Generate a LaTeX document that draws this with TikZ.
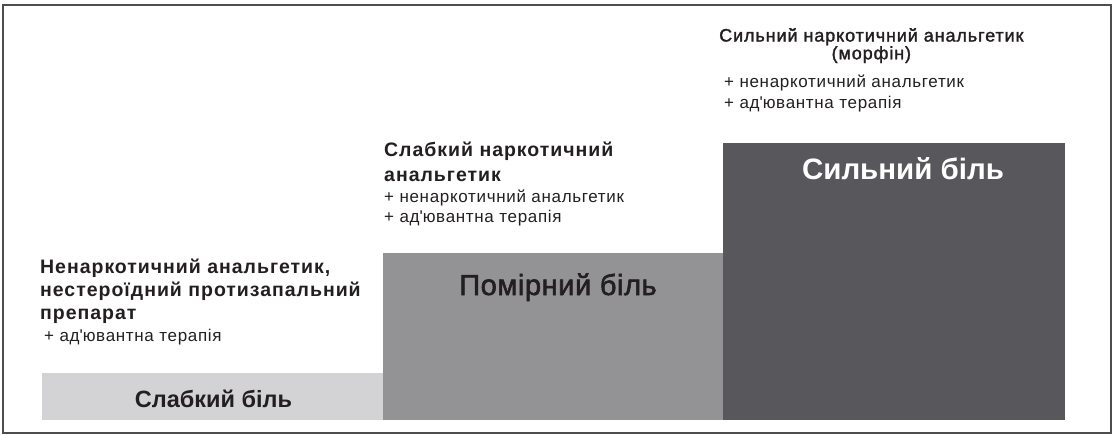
\documentclass[tikz,border=0pt]{standalone}
\usepackage{fontspec}
\setmainfont{Liberation Sans}
\newfontfamily\trackfont{Liberation Sans}[LetterSpace=5]
\newfontfamily\addfont{Liberation Sans}[LetterSpace=4]
\newfontfamily\semifont{Liberation Sans}[LetterSpace=5,RawFeature={embolden=1.6}]
\newfontfamily\labelsemifont{Liberation Sans}[LetterSpace=2,RawFeature={embolden=2}]
\usetikzlibrary{positioning}
\definecolor{weakgray}{HTML}{D3D3D5}
\definecolor{moderategray}{HTML}{939396}
\definecolor{stronggray}{HTML}{58585C}
\definecolor{inkgray}{HTML}{231F20}

\begin{document}
\begin{tikzpicture}[x=1pt,y=-1pt,
  painbox/.style={rectangle,draw=none,inner sep=0pt,anchor=south west},
  painlabel/.style={anchor=base,inner sep=0pt,text=inkgray},
  drugtext/.style={anchor=base west,align=left,inner sep=0pt,text=inkgray,
    font=\fontsize{19.5}{23}\trackfont\bfseries},
  addtext/.style={anchor=base west,align=left,inner sep=0pt,text=inkgray,
    font=\fontsize{17}{20.5}\addfont}]
  \useasboundingbox (0,0) rectangle (1115,435);
  \draw[line width=1.5pt,draw=inkgray!80] (3,5) rectangle (1111,433);

  % steps of the ladder
  \node[painbox,fill=weakgray,minimum width=341,minimum height=47] (weak) at (42,420) {};
  \node[painbox,fill=moderategray,minimum width=340,minimum height=167] (moderate) at (383,420) {};
  \node[painbox,fill=stronggray,minimum width=342,minimum height=277] (strong) at (723,420) {};

  \node[painlabel,font=\fontsize{23.5}{28}\selectfont\bfseries] (weaklabel) at (213.5,407.5) {Слабкий біль};
  \node[painlabel,font=\fontsize{29}{32}\labelsemifont] (moderatelabel) at (558,295) {Помірний біль};
  \node[painlabel,text=white,font=\fontsize{29.5}{32}\selectfont\bfseries] (stronglabel) at (903,180) {Сильний біль};

  % drugs for each step (base = last line)
  \node[drugtext] (weakdrug) at (40,319.3) {Ненаркотичний анальгетик,\\нестероїдний протизапальний\\препарат};
  \node[addtext] (weakadd) at (44,341.7) {+ ад\textquotesingle ювантна терапія};

  \node[drugtext,font=\fontsize{19.5}{25}\trackfont\bfseries] (moderatedrug) at (384,181.7) {Слабкий наркотичний\\анальгетик};
  \node[addtext] (moderateadd) at (384,222.7) {+ ненаркотичний анальгетик\\+ ад\textquotesingle ювантна терапія};

  \node[drugtext,align=center,font=\fontsize{18}{14.5}\semifont] (strongdrug) at (719,59.3) {Сильний наркотичний анальгетик\\(морфін)};
  \node[addtext] (strongadd) at (724,108.3) {+ ненаркотичний анальгетик\\+ ад\textquotesingle ювантна терапія};
\end{tikzpicture}
\end{document}
